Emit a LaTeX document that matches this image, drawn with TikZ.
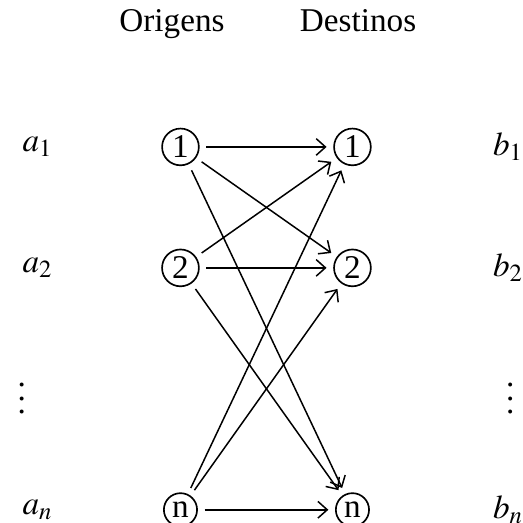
\documentclass[tikz,border=0pt]{standalone}
\usepackage{mathptmx}
\usepackage{fontspec}
\setmainfont{Liberation Serif}
\usepackage{tikz}
\usetikzlibrary{arrows.meta,positioning}
\tikzset{
  vertex/.style={circle,draw,line width=.5pt,inner sep=1pt,minimum size=10pt},
  arrow/.style={-{Straight Barb[length=2.8pt,width=5pt]},line width=.45pt,shorten >=2pt,shorten <=2pt}
}
\begin{document}
\begin{tikzpicture}
\useasboundingbox (0,0) rectangle (5.535,5.535);

\node[anchor=base] (orig) at (1.82,5.20) {Origens};
\node[anchor=base] (dest) at (3.79,5.20) {Destinos};

\node[vertex] (o1) at (1.91,3.98) {1};
\node[vertex] (o2) at (1.91,2.70) {2};
\node[vertex] (on) at (1.91,0.14) {n};
\node[vertex] (d1) at (3.73,3.98) {1};
\node[vertex] (d2) at (3.73,2.70) {2};
\node[vertex] (dn) at (3.73,0.14) {n};

\node (a1) at (0.40,3.98) {$a_1$};
\node (a2) at (0.40,2.70) {$a_2$};
\node (adots) at (0.23,1.42) {$\vdots$};
\node (an) at (0.40,0.14) {$a_n$};
\node (b1) at (5.38,3.98) {$b_1$};
\node (b2) at (5.38,2.70) {$b_2$};
\node (bdots) at (5.40,1.42) {$\vdots$};
\node (bn) at (5.38,0.14) {$b_n$};

\foreach \i in {1,2,n}
  \foreach \j in {1,2,n}
    \draw[arrow] (o\i)--(d\j);
\end{tikzpicture}
\end{document}
